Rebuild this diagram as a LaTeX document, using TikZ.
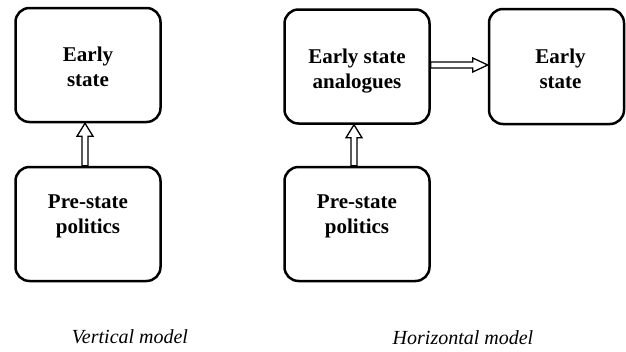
\documentclass[tikz,border=0pt]{standalone}
\usepackage{fontspec}
\setmainfont{Liberation Serif}
\usetikzlibrary{calc}
\begin{document}
\begin{tikzpicture}[x=1pt,y=-1pt,
  box/.style={draw=black, line width=2.5pt, rounded corners=14pt,
    minimum width=145pt, minimum height=114pt, align=center,
    font=\fontsize{21}{25}\selectfont\bfseries, inner sep=0pt},
  topbox/.style={box, text height=43pt, text depth=0pt},
  lowbox/.style={box, text height=31pt, text depth=12pt},
  hollow/.style={draw=black, line width=1.3pt, fill=white, line join=miter},
  caption/.style={font=\fontsize{20}{24}\selectfont\itshape, anchor=base, inner sep=0pt}]
\useasboundingbox (0,0) rectangle (626,351);
\node[topbox] (b1) at (88,65) {Early\\state};
\node[lowbox] (b2) at (88,224) {Pre-state\\politics};
\node[topbox] (b3) at (357,66.5) {Early state\\analogues};
\node[lowbox] (b4) at (357,224) {Pre-state\\politics};
\node[topbox, minimum width=135pt, minimum height=115pt] (b5) at (556.5,66.5) {\hspace*{8pt}Early\\\hspace*{8pt}state};
% vertical hollow arrows
\draw[hollow] let \p1=($(b2.north)+(-3,0)$), \p2=($(b1.south)+(-3,0)$) in
  (\x1-3pt,\y1) -- (\x1-3pt,\y2-13pt) -- (\x1-8pt,\y2-13pt) -- (\x2,\y2)
  -- (\x1+8pt,\y2-13pt) -- (\x1+3pt,\y2-13pt) -- (\x1+3pt,\y1) -- cycle;
\draw[hollow] let \p1=($(b4.north)+(-3,0)$), \p2=($(b3.south)+(-3,0)$) in
  (\x1-3pt,\y1) -- (\x1-3pt,\y2-13pt) -- (\x1-8pt,\y2-13pt) -- (\x2,\y2)
  -- (\x1+8pt,\y2-13pt) -- (\x1+3pt,\y2-13pt) -- (\x1+3pt,\y1) -- cycle;
% horizontal hollow arrow
\draw[hollow] let \p1=($(b3.east)+(0,-1.5)$), \p2=($(b5.west)+(0,-1.5)$) in
  (\x1,\y1+3pt) -- (\x2-15pt,\y1+3pt) -- (\x2-15pt,\y1+7pt) -- (\x2,\y1)
  -- (\x2-15pt,\y1-7pt) -- (\x2-15pt,\y1-3pt) -- (\x1,\y1-3pt) -- cycle;
\node[caption] (c1) at (130,343) {Vertical model};
\node[caption] (c2) at (463,344) {Horizontal model};
\end{tikzpicture}
\end{document}
